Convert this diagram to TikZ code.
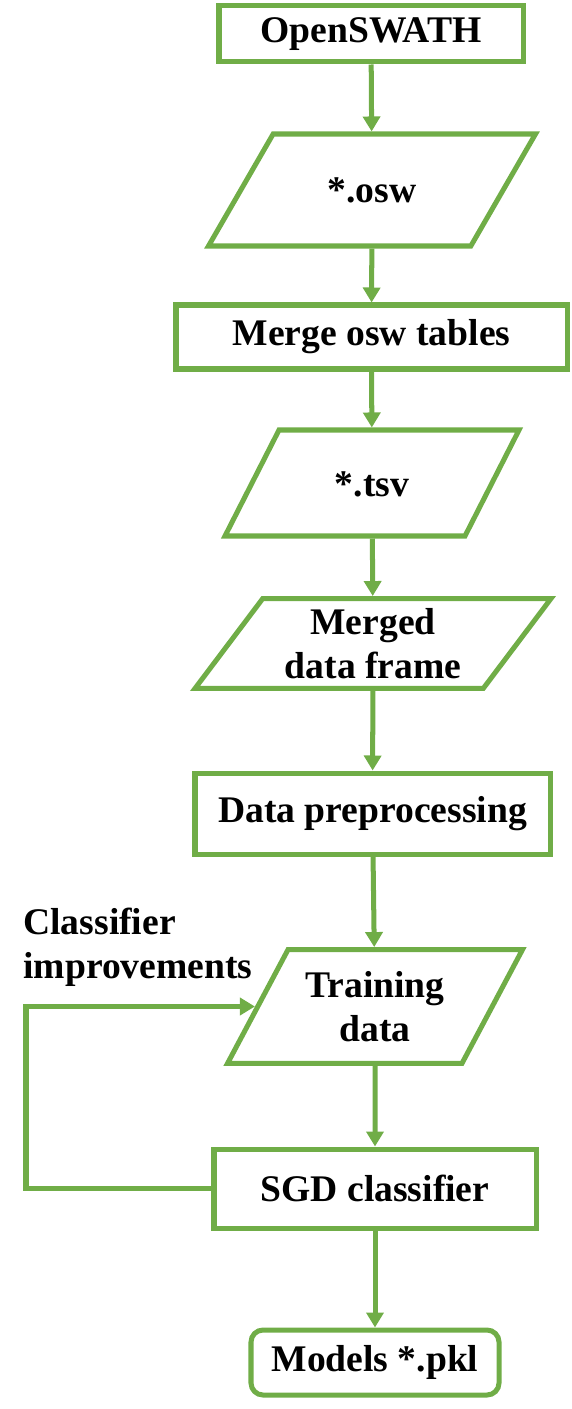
\documentclass[tikz,border=0pt]{standalone}
\usepackage{fontspec}
\setmainfont{Liberation Serif}
\usepackage{tikz}
\usetikzlibrary{arrows.meta,positioning,shapes.geometric}
\definecolor{flowgreen}{RGB}{112,173,71}
\tikzset{box/.style={draw=flowgreen,line width=2.85pt,align=center,inner sep=2pt,
    font=\fontsize{21.4pt}{25pt}\selectfont\bfseries},
  io/.style={box,trapezium,trapezium stretches body},
  oneline/.style={text height=0.52cm,text depth=0pt}}
\tikzset{arr/.style={flowgreen,line width=2.85pt,-{Triangle[length=0.3cm,width=0.34cm]}}}
\begin{document}
\begin{tikzpicture}
\useasboundingbox (0,0) rectangle (11.42,-28.18);
\node[box,minimum width=6.08cm,minimum height=1.12cm] (open) at (7.42,-0.68) {OpenSWATH};
\node[io,oneline,inner ysep=0.86cm,trapezium left angle=60,trapezium right angle=120,minimum width=6.54cm] (osw) at (7.44,-3.80) {*.osw};
\node[box,minimum width=7.82cm,minimum height=1.28cm] (merge) at (7.43,-6.74) {Merge osw tables};
\node[io,oneline,inner ysep=0.80cm,trapezium left angle=63,trapezium right angle=117,minimum width=5.88cm] (tsv) at (7.44,-9.66) {*.tsv};
\node[io,inner ysep=0.195cm,trapezium left angle=53,trapezium right angle=127,minimum width=7.12cm] (frame) at (7.46,-12.87) {Merged\\ data frame};
\node[box,minimum width=7.10cm,minimum height=1.62cm] (prep) at (7.45,-16.27) {Data preprocessing};
\node[io,inner ysep=0.435cm,trapezium left angle=62,trapezium right angle=118,minimum width=5.90cm] (train) at (7.50,-20.13) {Training\\ data};
\node[box,minimum width=6.44cm,minimum height=1.58cm] (sgd) at (7.50,-23.77) {SGD classifier};
\node[box,rounded corners=0.24cm,minimum width=4.96cm,minimum height=1.30cm] (models) at (7.50,-27.25) {Models *.pkl};
\node[anchor=north west,align=left,inner sep=0pt,font=\fontsize{21.4pt}{25pt}\selectfont\bfseries] (impr) at (0.46,-18.16) {Classifier\\ improvements};
\coordinate (back) at (0.52,0);
\draw[arr] (open) -- (osw);
\draw[arr] (osw) -- (merge);
\draw[arr] (merge) -- (tsv);
\draw[arr] (tsv) -- (frame);
\draw[arr] (frame) -- (prep);
\draw[arr] (prep) -- (train);
\draw[arr] (train) -- (sgd);
\draw[arr] (sgd) -- (models);
\draw[arr] (sgd.west) -| (back |- train.west) -- (train.west);
\end{tikzpicture}
\end{document}
